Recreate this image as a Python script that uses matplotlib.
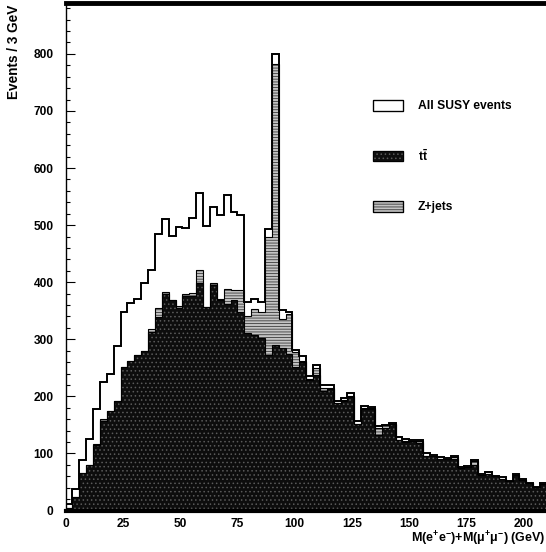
import numpy as np
import matplotlib
matplotlib.use("Agg")
import matplotlib.pyplot as plt
from matplotlib.patches import Rectangle

# ---- data (events per 3 GeV bin, 0-210 GeV) ----
bin_width = 3.0
n_bins = 70
total_susy = [12, 38, 88, 125, 178, 225, 240, 289, 347, 363,
              371, 399, 421, 484, 511, 481, 497, 495, 512, 556,
              499, 532, 518, 553, 523, 517, 365, 371, 365, 493,
              799, 352, 348, 281, 270, 236, 255, 220, 220, 191,
              197, 205, 157, 183, 182, 148, 150, 154, 128, 125,
              124, 123, 100, 97, 94, 92, 96, 76, 78, 88,
              64, 68, 61, 58, 52, 64, 55, 49, 42, 48]
ttbar = [5, 23, 66, 79, 114, 157, 175, 191, 251, 262,
         273, 280, 312, 339, 380, 368, 355, 375, 375, 399,
         356, 395, 368, 362, 369, 348, 311, 308, 302, 273,
         290, 284, 275, 252, 260, 228, 237, 210, 212, 188,
         192, 199, 152, 177, 178, 133, 145, 152, 123, 120,
         122, 118, 96, 95, 90, 90, 90, 75, 76, 80,
         63, 64, 60, 56, 51, 62, 54, 48, 41, 47]
zjets = [0, 0, 0, 0, 3, 3, 0, 0, 0, 0,
         0, 0, 6, 15, 3, 0, 3, 4, 6, 22,
         0, 3, 2, 26, 17, 38, 30, 45, 45, 207,
         492, 52, 69, 25, 2, 2, 13, 5, 3, 1,
         2, 2, 0, 2, 1, 12, 4, 0, 0, 2,
         0, 3, 0, 0, 1, 0, 4, 0, 0, 6,
         0, 0, 0, 0, 0, 0, 0, 0, 0, 0]
x_ticks = [0, 25, 50, 75, 100, 125, 150, 175, 200]
y_ticks = [0, 100, 200, 300, 400, 500, 600, 700, 800]
legend_labels = ["All SUSY events", r"$\mathbf{t\bar{t}}$", "Z+jets"]

edges = np.arange(n_bins + 1) * bin_width
total = np.array(total_susy, float)
tt = np.array(ttbar, float)
zz = np.array(zjets, float)

plt.rcParams['font.family'] = ['Liberation Sans', 'DejaVu Sans']
plt.rcParams['font.weight'] = 'bold'
plt.rcParams['mathtext.fontset'] = 'custom'
plt.rcParams['mathtext.bf'] = 'Liberation Sans:bold'
plt.rcParams['mathtext.rm'] = 'Liberation Sans:bold'
plt.rcParams['mathtext.it'] = 'Liberation Sans:bold'
plt.rcParams['hatch.linewidth'] = 0.6

fig = plt.figure(figsize=(5.46, 5.52), dpi=100)
ax = fig.add_axes([65.5 / 546, 41.5 / 552, 0.8817, 508 / 552])

# All SUSY (white with outline)
ax.stairs(total, edges, fill=True, facecolor='white', edgecolor='none', zorder=1)
ax.stairs(total, edges, fill=False, color='black', linewidth=1.4, zorder=5)
# Z+jets stacked on ttbar (hatched grey)
ax.stairs(tt + zz, edges, fill=True, facecolor='#c4c4c4', edgecolor='none', zorder=2)
ax.stairs(tt + zz, edges, fill=True, facecolor='none', edgecolor='#3a3a3a',
          hatch='------', linewidth=0, zorder=2.1)
ax.stairs(tt + zz, edges, fill=False, color='black', linewidth=0.8, zorder=4)
# ttbar (black dotted)
ax.stairs(tt, edges, fill=True, facecolor='#0d0d0d', edgecolor='none', zorder=3)
ax.stairs(tt, edges, fill=True, facecolor='none', edgecolor='#5a5a5a',
          hatch='....', linewidth=0, zorder=3.1)
ax.stairs(tt, edges, fill=False, color='black', linewidth=0.8, zorder=4)

ax.set_xlim(0, 210)
ax.set_ylim(0, 890)
ax.set_xticks(x_ticks)
ax.set_yticks(y_ticks)
ax.set_yticks(np.arange(0, 890, 20), minor=True)
ax.tick_params(axis='y', which='major', direction='in', length=6.5, width=0.8,
               pad=8.5, labelsize=8.6)
ax.tick_params(axis='y', which='minor', direction='in', length=3.2, width=0.8)
ax.tick_params(axis='x', which='major', length=0, pad=5.5, labelsize=8.6)
for lab in ax.get_xticklabels() + ax.get_yticklabels():
    lab.set_fontweight('bold')

ax.spines['right'].set_visible(False)
ax.spines['left'].set_linewidth(1.0)
ax.spines['top'].set_linewidth(3.5)
ax.spines['bottom'].set_linewidth(3.0)
for s in ax.spines.values():
    s.set_zorder(10)

fig.text(14 / 546, 1 - 5 / 552, "Events / 3 GeV", rotation=90, ha='center', va='top',
         fontsize=9.8, fontweight='bold')
fig.text(545.5 / 546, 1 - 542.5 / 552,
         r"M(e$^{\mathbf{+}}$e$^{\mathbf{-}}$)+M(μ$^{\mathbf{+}}$μ$^{\mathbf{-}}$) (GeV)",
         ha='right', va='baseline', fontsize=9.0, fontweight='bold')

# legend (manual)
box_styles = [
    dict(facecolor='white', edgecolor='black', hatch=None),
    dict(facecolor='#0d0d0d', edgecolor='#5a5a5a', hatch='....'),
    dict(facecolor='#c4c4c4', edgecolor='#3a3a3a', hatch='------'),
]
centers_y = [105.7, 156.0, 206.7]
for lab, st, cy in zip(legend_labels, box_styles, centers_y):
    x0 = 372.7 / 546
    y0 = 1 - (cy + 5.3) / 552
    r = Rectangle((x0, y0), 30 / 546, 10.6 / 552, transform=fig.transFigure,
                  facecolor=st['facecolor'], edgecolor=st['edgecolor'],
                  hatch=st['hatch'], linewidth=0.8, zorder=20)
    fig.patches.append(r)
    r2 = Rectangle((x0, y0), 30 / 546, 10.6 / 552, transform=fig.transFigure,
                   facecolor='none', edgecolor='black', linewidth=0.9, zorder=21)
    fig.patches.append(r2)
    fig.text(418 / 546, 1 - cy / 552, lab, ha='left', va='center', fontsize=8.7,
             fontweight='bold')

fig.savefig("out.png", dpi=100)
